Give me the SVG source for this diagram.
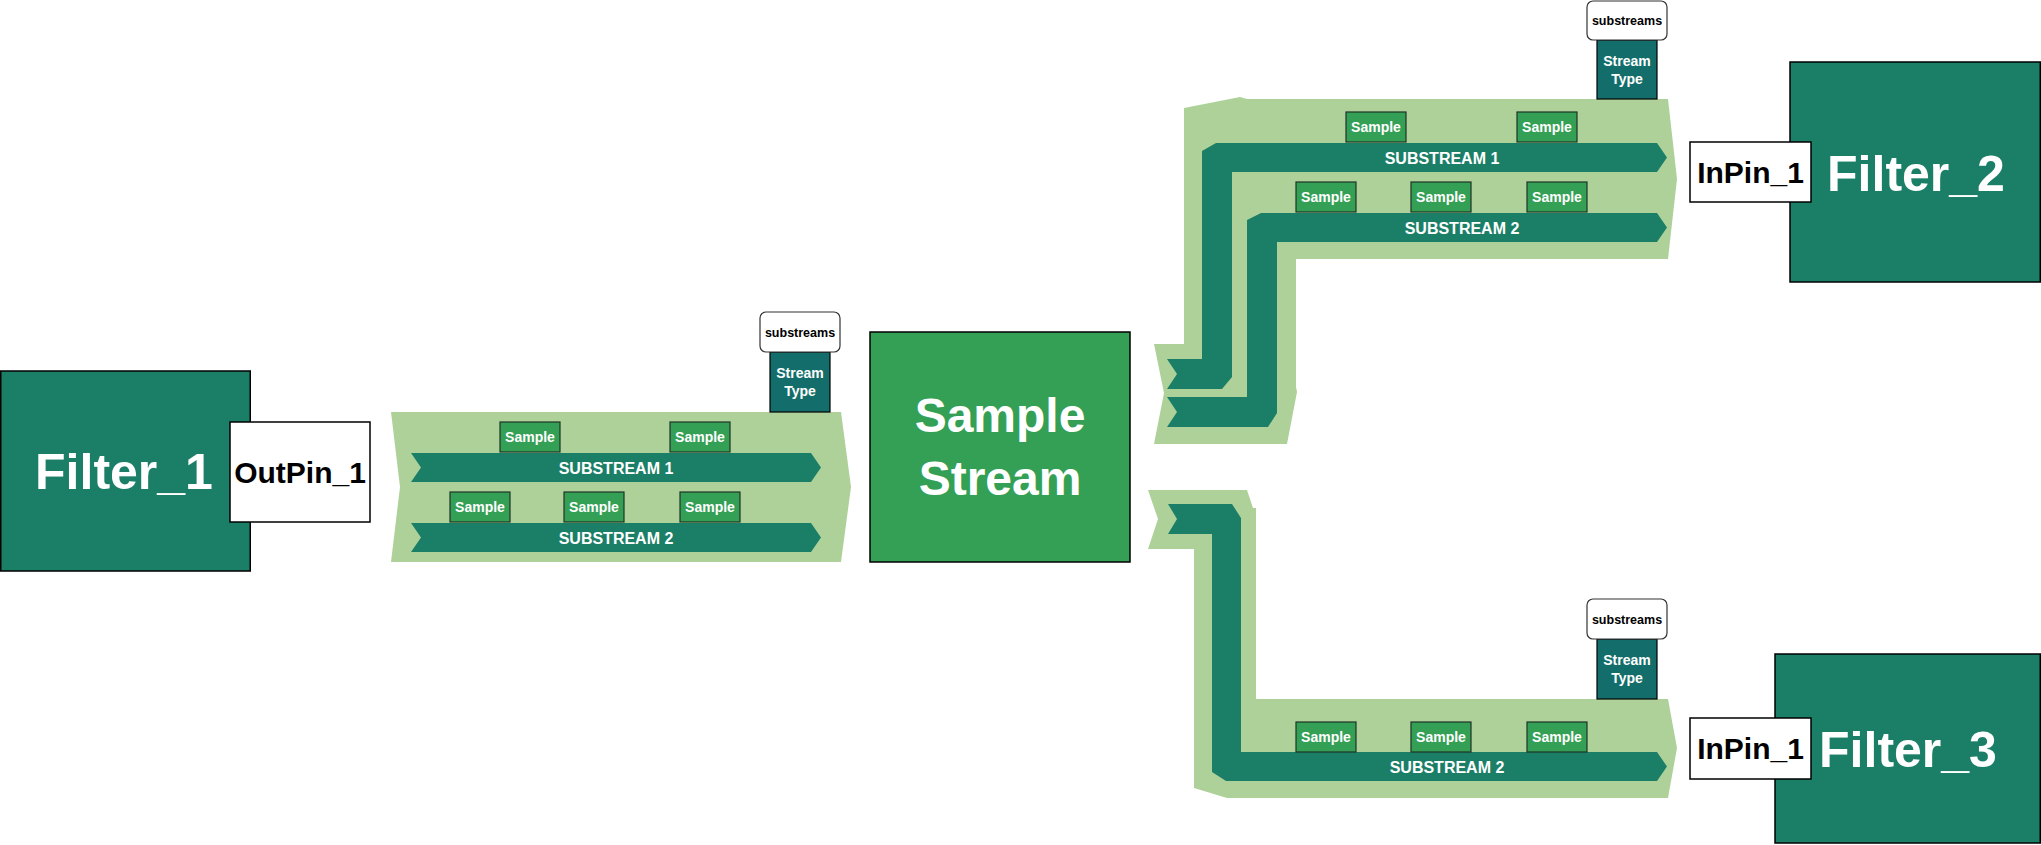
<svg xmlns="http://www.w3.org/2000/svg" width="2041" height="845" viewBox="0 0 2041 845">
<style>
.filter{fill:#1B7F68;stroke:#000;stroke-width:1.5}
.ftxt{font-family:"Liberation Sans",Arial,sans-serif;font-weight:bold;font-size:50px;fill:#fff;text-anchor:middle}
.pin{fill:#fff;stroke:#000;stroke-width:1.5}
.ptxt{font-family:"Liberation Sans",Arial,sans-serif;font-weight:bold;font-size:30px;fill:#000;text-anchor:middle}
.band{fill:#AED19A}
.sub{fill:#1B7F68}
.stxt{font-family:"Liberation Sans",Arial,sans-serif;font-weight:bold;font-size:16px;fill:#fff;text-anchor:middle}
.smp{fill:#34A055;stroke:#1f3326;stroke-width:1.2}
.smptxt{font-family:"Liberation Sans",Arial,sans-serif;font-weight:bold;font-size:14px;fill:#fff;text-anchor:middle}
.stype{fill:#136E6B;stroke:#000;stroke-width:1.2}
.subs{fill:#fff;stroke:#333;stroke-width:1.2}
.substxt{font-family:"Liberation Sans",Arial,sans-serif;font-weight:bold;font-size:12.5px;fill:#000;text-anchor:middle}
.ss{fill:#34A055;stroke:#000;stroke-width:1.5}
.sstxt{font-family:"Liberation Sans",Arial,sans-serif;font-weight:bold;font-size:48px;fill:#fff;text-anchor:middle}
</style>
<rect width="2041" height="845" fill="#fff"/>

<g id="connectors">
  <g id="stream_left">
    <polygon class="band" points="391,412 841,412 851,487 841,562 391,562 400,487"/>
    <polygon class="sub" points="411,453 811,453 821,467.5 811,482 411,482 421,467.5"/>
    <text class="stxt" x="616" y="473.5">SUBSTREAM 1</text>
    <polygon class="sub" points="411,523 811,523 821,537.5 811,552 411,552 421,537.5"/>
    <text class="stxt" x="616" y="543.5">SUBSTREAM 2</text>
    <rect class="smp" x="500" y="422" width="60" height="30"/><text class="smptxt" x="530" y="442">Sample</text>
    <rect class="smp" x="670" y="422" width="60" height="30"/><text class="smptxt" x="700" y="442">Sample</text>
    <rect class="smp" x="450" y="492" width="60" height="30"/><text class="smptxt" x="480" y="512">Sample</text>
    <rect class="smp" x="564" y="492" width="60" height="30"/><text class="smptxt" x="594" y="512">Sample</text>
    <rect class="smp" x="680" y="492" width="60" height="30"/><text class="smptxt" x="710" y="512">Sample</text>
    <rect class="stype" x="770" y="352" width="60" height="60"/>
    <text class="smptxt" x="800" y="378">Stream</text><text class="smptxt" x="800" y="396">Type</text>
    <rect class="subs" x="760" y="312" width="80" height="40" rx="6"/>
    <text class="substxt" x="800" y="336.5">substreams</text>
  </g>

  <g id="stream_upper">
    <polygon class="band" points="1184,108 1240,97 1247,99 1668,99 1677,179 1668,259 1296,259 1296,387 1297,392 1287,444 1154,444 1164,393 1154,344 1184,344"/>
    <polygon class="sub" points="1167,359 1202,359 1202,151 1216,143 1657,143 1667,157.5 1657,172 1232,172 1232,377 1222,389 1167,389 1177,374"/>
    <polygon class="sub" points="1167,397 1247,397 1247,220 1261,213 1657,213 1667,227.5 1657,242 1277,242 1277,413 1268,427 1167,427 1177,412"/>
    <text class="stxt" x="1442" y="163.5">SUBSTREAM 1</text>
    <text class="stxt" x="1462" y="233.5">SUBSTREAM 2</text>
    <rect class="smp" x="1346" y="112" width="60" height="30"/><text class="smptxt" x="1376" y="132">Sample</text>
    <rect class="smp" x="1517" y="112" width="60" height="30"/><text class="smptxt" x="1547" y="132">Sample</text>
    <rect class="smp" x="1296" y="182" width="60" height="30"/><text class="smptxt" x="1326" y="202">Sample</text>
    <rect class="smp" x="1411" y="182" width="60" height="30"/><text class="smptxt" x="1441" y="202">Sample</text>
    <rect class="smp" x="1527" y="182" width="60" height="30"/><text class="smptxt" x="1557" y="202">Sample</text>
    <rect class="stype" x="1597" y="40" width="60" height="59"/>
    <text class="smptxt" x="1627" y="66">Stream</text><text class="smptxt" x="1627" y="84">Type</text>
    <rect class="subs" x="1587" y="1" width="80" height="39" rx="6"/>
    <text class="substxt" x="1627" y="25">substreams</text>
  </g>

  <g id="stream_lower">
    <polygon class="band" points="1148,490 1247,490 1253,508 1256,508 1256,699 1668,699 1677,748 1668,798 1227,798 1194,788 1194,549 1148,549 1158,519"/>
    <polygon class="sub" points="1168,504 1232,504 1241,518 1241,752 1657,752 1667,766.5 1657,781 1226,781 1212,772 1212,534 1168,534 1177,519"/>
    <text class="stxt" x="1447" y="772.5">SUBSTREAM 2</text>
    <rect class="smp" x="1296" y="722" width="60" height="30"/><text class="smptxt" x="1326" y="742">Sample</text>
    <rect class="smp" x="1411" y="722" width="60" height="30"/><text class="smptxt" x="1441" y="742">Sample</text>
    <rect class="smp" x="1527" y="722" width="60" height="30"/><text class="smptxt" x="1557" y="742">Sample</text>
    <rect class="stype" x="1597" y="639" width="60" height="60"/>
    <text class="smptxt" x="1627" y="665">Stream</text><text class="smptxt" x="1627" y="683">Type</text>
    <rect class="subs" x="1587" y="599" width="80" height="40" rx="6"/>
    <text class="substxt" x="1627" y="623.5">substreams</text>
  </g>
</g>

<g id="Filter_1">
  <rect class="filter" x="0.75" y="371" width="249.5" height="200"/>
  <text class="ftxt" x="124" y="489">Filter_1</text>
</g>
<g id="OutPin_1">
  <rect class="pin" x="230" y="422" width="140" height="100"/>
  <text class="ptxt" x="300" y="483">OutPin_1</text>
</g>
<g id="SampleStream">
  <rect class="ss" x="870" y="332" width="260" height="230"/>
  <text class="sstxt" x="1000" y="432">Sample</text>
  <text class="sstxt" x="1000" y="495">Stream</text>
</g>
<g id="Filter_2">
  <rect class="filter" x="1790" y="62" width="250.25" height="220"/>
  <text class="ftxt" x="1916" y="191">Filter_2</text>
</g>
<g id="InPin_1_F2">
  <rect class="pin" x="1690" y="142" width="121" height="60"/>
  <text class="ptxt" x="1750.5" y="183">InPin_1</text>
</g>
<g id="Filter_3">
  <rect class="filter" x="1775" y="654" width="265.25" height="189"/>
  <text class="ftxt" x="1908" y="767">Filter_3</text>
</g>
<g id="InPin_1_F3">
  <rect class="pin" x="1690" y="718" width="121" height="61"/>
  <text class="ptxt" x="1750.5" y="759">InPin_1</text>
</g>
</svg>
